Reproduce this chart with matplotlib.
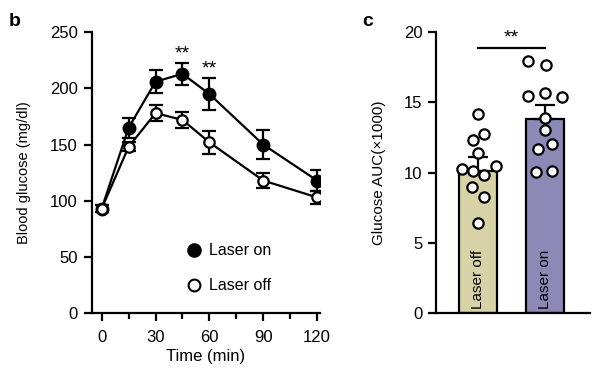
import matplotlib
matplotlib.use('Agg')
import matplotlib.pyplot as plt

plt.rcParams['font.family'] = ['Liberation Sans', 'DejaVu Sans']

# Panel b: glucose tolerance time course
time_min = [0, 15, 30, 45, 60, 90, 120]
on_mean = [93, 165, 206, 213, 195, 150, 118]
on_sem = [3, 9, 10, 10, 14, 13, 9]
off_mean = [93, 148, 178, 172, 152, 118, 103]
off_sem = [3, 4, 7, 7, 10, 7, 6]
star_times = [45, 60]
star_levels = [231, 217]

# Panel c: area under curve
groups = ['Laser off', 'Laser on']
auc_mean = [10.1, 13.8]
auc_sem = [1.0, 1.05]
off_points = [14.16, 12.79, 12.36, 11.41, 10.25, 10.1, 9.87, 10.46, 8.95, 8.28, 6.45]
on_points = [15.44, 15.68, 15.4, 13.86, 13.03, 11.72, 12.03, 10.06, 10.13, 17.96, 17.7]
off_jitter = [0, 0.09, -0.075, 0, -0.24, -0.075, 0.09, 0.27, -0.09, 0.09, 0]
on_jitter = [-0.25, 0, 0.25, 0, 0, -0.11, 0.11, -0.13, 0.11, -0.25, 0.01]
bar_colors = ['#d8d3a7', '#8d89b6']

fig = plt.figure(figsize=(6, 3.75), dpi=100)

# ---- panel b ----
ax = fig.add_axes([0.153, 0.165, 0.38, 0.749])
ax.errorbar(time_min, on_mean, yerr=on_sem, color='black', lw=1.6, elinewidth=1.6,
            capsize=5, capthick=1.6, marker='o', ms=9, mfc='black', mec='black', zorder=3)
ax.errorbar(time_min, off_mean, yerr=off_sem, color='black', lw=1.6, elinewidth=1.6,
            capsize=5, capthick=1.6, marker='o', ms=7.5, mfc='white', mec='black', mew=1.6, zorder=3)
for t, lvl in zip(star_times, star_levels):
    ax.text(t, lvl, '**', ha='center', va='center', fontsize=14)

# legend drawn by hand
ax.plot([51.5], [56], 'o', ms=9.5, color='black')
ax.text(60, 56, 'Laser on', va='center', fontsize=11.5)
ax.plot([51.5], [25], 'o', ms=8.5, mfc='white', mec='black', mew=1.5)
ax.text(60, 25, 'Laser off', va='center', fontsize=11.5)

ax.set_xlim(-5.5, 121.5)
ax.set_ylim(0, 250)
ax.set_xticks([0, 30, 60, 90, 120])
ax.set_xticks([15, 45, 75, 105], minor=True)
ax.set_yticks([0, 50, 100, 150, 200, 250])
ax.spines['top'].set_visible(False)
ax.spines['right'].set_visible(False)
for s in ['left', 'bottom']:
    ax.spines[s].set_linewidth(1.6)
ax.tick_params(which='major', length=6, width=1.6, labelsize=12, pad=4)
ax.tick_params(axis='x', which='major', pad=6)
ax.tick_params(which='minor', length=4, width=1.6)
ax.set_xlabel('Time (min)', fontsize=12, labelpad=3)
ax.set_ylabel('Blood glucose (mg/dl)', fontsize=10.5, labelpad=14)
fig.text(0.015, 0.93, 'b', fontsize=14, fontweight='bold')

# ---- panel c ----
ax2 = fig.add_axes([0.727, 0.165, 0.257, 0.749])
pos = [0, 1]
ax2.bar(pos, auc_mean, width=0.57, color=bar_colors, edgecolor='black', linewidth=1.6, zorder=1)
ax2.errorbar(pos, auc_mean, yerr=[[0, 0], auc_sem], fmt='none', ecolor='black',
             elinewidth=1.6, capsize=7, capthick=1.6, zorder=2)
ax2.scatter([pos[0] + j for j in off_jitter], off_points, s=55, facecolor='white',
            edgecolor='black', linewidth=1.6, zorder=3)
ax2.scatter([pos[1] + j for j in on_jitter], on_points, s=55, facecolor='white',
            edgecolor='black', linewidth=1.6, zorder=3)
for p, g in zip(pos, groups):
    ax2.text(p, 0.3, g, rotation=90, ha='center', va='bottom', fontsize=11)
ax2.plot([pos[0], pos[1]], [18.85, 18.85], color='black', lw=1.6)
ax2.text(0.5, 19.6, '**', ha='center', va='center', fontsize=14)

ax2.set_xlim(-0.63, 1.68)
ax2.set_ylim(0, 20)
ax2.set_xticks([])
ax2.set_yticks([0, 5, 10, 15, 20])
ax2.spines['top'].set_visible(False)
ax2.spines['right'].set_visible(False)
for s in ['left', 'bottom']:
    ax2.spines[s].set_linewidth(1.6)
ax2.tick_params(length=6, width=1.6, labelsize=12, pad=4)
ax2.set_ylabel('Glucose AUC(\u00d71000)', fontsize=11, labelpad=13)
fig.text(0.603, 0.93, 'c', fontsize=14, fontweight='bold')

fig.savefig('out.png', dpi=100)
